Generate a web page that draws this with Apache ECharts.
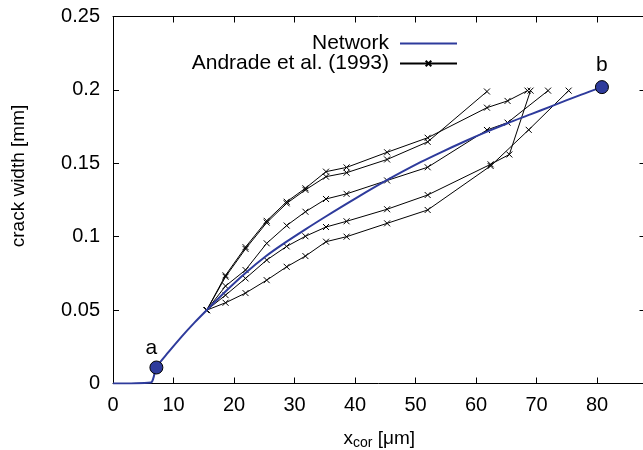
<!DOCTYPE html>
<html>
<head>
<meta charset="utf-8">
<script src="https://cdn.jsdelivr.net/npm/echarts@6/dist/echarts.min.js"></script>
<style>
  html, body { margin: 0; padding: 0; background: #fff; overflow: hidden; }
  #chart { width: 643px; height: 450px; }
</style>
</head>
<body>
<div id="chart"></div>
<script>
// network model curve (x_cor in um, crack width in mm)
const networkX = [0, 6.26, 6.67, 7.17, 9.16, 11.31, 13.46, 15.56, 18.59, 21.9, 25.2, 28.5, 31.8, 35.1, 40.1, 45.4, 50.9, 54.2, 58.0, 61.9, 65.2, 69.1, 72.4, 77.4, 80.8];
const networkY = [0, 0.0007, 0.0036, 0.0109, 0.0213, 0.0318, 0.0415, 0.0503, 0.0627, 0.0753, 0.0865, 0.0961, 0.1050, 0.1136, 0.1261, 0.1388, 0.1509, 0.1575, 0.1647, 0.1717, 0.1773, 0.1835, 0.1888, 0.1968, 0.2019];

// Andrade et al. (1993) test curves
const andradeAx = [15.5, 18.6, 21.9, 25.4, 28.7, 31.8, 35.2, 38.6, 45.3, 52.0, 61.8, 65.2, 68.5];
const andradeAy = [0.050, 0.0737, 0.0929, 0.1108, 0.1238, 0.1330, 0.1443, 0.1472, 0.1575, 0.1674, 0.1879, 0.1925, 0.1995];
const andradeBx = [15.5, 18.6, 21.9, 25.4, 28.7, 31.8, 35.2, 38.6, 45.3, 52.0, 61.8];
const andradeBy = [0.050, 0.0727, 0.0917, 0.1096, 0.1227, 0.1319, 0.1409, 0.1436, 0.1526, 0.1646, 0.1989];
const andradeCx = [15.5, 18.6, 21.9, 25.4, 28.7, 31.8, 35.2, 38.6, 45.3, 52.0, 61.8, 65.2, 71.9];
const andradeCy = [0.050, 0.0664, 0.0773, 0.0955, 0.1076, 0.1170, 0.1257, 0.1292, 0.1383, 0.1473, 0.1727, 0.1777, 0.1995];
const andradeDx = [15.5, 18.6, 21.9, 25.4, 28.7, 31.8, 35.2, 38.6, 45.3, 52.0, 62.4, 65.5, 69.0];
const andradeDy = [0.050, 0.0602, 0.0716, 0.0841, 0.0934, 0.1003, 0.1066, 0.1105, 0.1187, 0.1284, 0.1493, 0.1560, 0.1995];
const andradeEx = [15.5, 18.6, 21.9, 25.4, 28.7, 31.8, 35.2, 38.6, 45.3, 52.0, 62.4, 68.7, 75.3];
const andradeEy = [0.050, 0.0550, 0.0616, 0.0704, 0.0795, 0.0868, 0.0966, 0.1000, 0.1091, 0.1182, 0.1482, 0.1728, 0.1995];

// marked points a and b
const markNames = ['a', 'b'];
const markX = [7.17, 80.8];
const markY = [0.0109, 0.2019];

const xTicks = [0, 10, 20, 30, 40, 50, 60, 70, 80];
const yTicks = [0, 0.05, 0.1, 0.15, 0.2, 0.25];

const FONT = 'Liberation Sans, Arial, Helvetica, sans-serif';
const BLUE = '#2e3b9c';
const ANDRADE = 'Andrade et al. (1993)';
const X_MAX = 88; // plot box runs just past the right edge of the picture

const zip = (xs, ys) => xs.map((x, i) => [x, ys[i]]);
const crossSymbol = 'path://M0,0L10,10M10,0L0,10';

function andradeSeries(xs, ys) {
  return {
    name: ANDRADE,
    type: 'line',
    data: zip(xs, ys),
    symbol: crossSymbol,
    symbolSize: 6,
    showAllSymbol: true,
    lineStyle: { color: '#000', width: 1 },
    itemStyle: { color: 'rgba(0,0,0,0)', borderColor: '#000', borderWidth: 1 },
    z: 3,
  };
}

const chart = echarts.init(document.getElementById('chart'), null, { renderer: 'canvas' });

const axisCommon = {
  axisLine: { show: true, onZero: false, lineStyle: { color: '#000', width: 1 } },
  axisTick: { show: true, inside: true, length: 6, lineStyle: { color: '#000' } },
  splitLine: { show: false },
};

const legendCommon = {
  right: 185,
  orient: 'vertical',
  align: 'right',
  padding: 0,
  itemWidth: 57,
  itemHeight: 7,
  textStyle: { fontFamily: FONT, fontSize: 21, color: '#000', lineHeight: 14, padding: [0, 6, 0, 0] },
};

const option = {
  animation: false,
  textStyle: { fontFamily: FONT },
  grid: { left: 113, right: -2.5, top: 16.5, bottom: 66.5, outerBoundsMode: 'none', containLabel: false },
  legend: [
    Object.assign({}, legendCommon, {
      top: 33,
      data: [{ name: 'Network', itemStyle: { color: 'rgba(0,0,0,0)', borderColor: 'rgba(0,0,0,0)', borderWidth: 0 } }],
    }),
    Object.assign({}, legendCommon, {
      top: 53,
      data: [ANDRADE],
    }),
  ],
  xAxis: [
    Object.assign({}, axisCommon, {
      type: 'value',
      min: 0,
      max: X_MAX,
      interval: 10,
      position: 'bottom',
      axisLabel: {
        margin: 12,
        fontSize: 20,
        color: '#000',
        fontFamily: FONT,
        formatter: v => (xTicks.indexOf(v) >= 0 ? String(v) : ''),
      },
      name: '{x|x}{s|cor}{x| [\u03bcm]}',
      nameLocation: 'middle',
      nameGap: 43,
      nameTextStyle: {
        rich: {
          x: { fontSize: 19, fontFamily: FONT, color: '#000' },
          s: { fontSize: 14, fontFamily: FONT, color: '#000', padding: [10, 0, 0, 0] },
        },
      },
    }),
    Object.assign({}, axisCommon, {
      type: 'value',
      min: 0,
      max: X_MAX,
      interval: 10,
      position: 'top',
      axisLabel: { show: false },
    }),
  ],
  yAxis: [
    Object.assign({}, axisCommon, {
      type: 'value',
      min: 0,
      max: 0.25,
      interval: 0.05,
      position: 'left',
      axisLabel: {
        margin: 13,
        fontSize: 20,
        color: '#000',
        fontFamily: FONT,
        formatter: v => {
          const t = yTicks.find(k => Math.abs(k - v) < 1e-9);
          return t === undefined ? '' : String(t);
        },
      },
    }),
    Object.assign({}, axisCommon, {
      type: 'value',
      min: 0,
      max: 0.25,
      interval: 0.05,
      position: 'right',
      axisLabel: { show: false },
    }),
  ],
  graphic: [
    {
      type: 'text',
      x: 19,
      y: 176,
      rotation: Math.PI / 2,
      style: {
        text: 'crack width [mm]',
        fontSize: 19,
        fontFamily: FONT,
        fill: '#000',
        align: 'center',
        verticalAlign: 'middle',
      },
    },
  ],
  series: [
    andradeSeries(andradeAx, andradeAy),
    andradeSeries(andradeBx, andradeBy),
    andradeSeries(andradeCx, andradeCy),
    andradeSeries(andradeDx, andradeDy),
    andradeSeries(andradeEx, andradeEy),
    {
      name: 'Network',
      type: 'line',
      data: zip(networkX, networkY),
      symbol: 'none',
      smooth: 0.3,
      lineStyle: { color: BLUE, width: 2 },
      itemStyle: { color: BLUE },
      z: 4,
    },
    {
      name: 'points',
      type: 'scatter',
      data: markX.map((x, i) => ({
        name: markNames[i],
        value: [x, markY[i]],
        label: i === 0 ? { offset: [-5, 2] } : {},
      })),
      symbol: 'circle',
      symbolSize: 13,
      itemStyle: { color: BLUE, borderColor: '#000', borderWidth: 1, opacity: 1 },
      label: {
        show: true,
        position: 'top',
        distance: 4,
        formatter: p => p.name,
        fontSize: 21,
        fontFamily: FONT,
        color: '#000',
      },
      z: 5,
    },
  ],
};

chart.setOption(option);
</script>
</body>
</html>
